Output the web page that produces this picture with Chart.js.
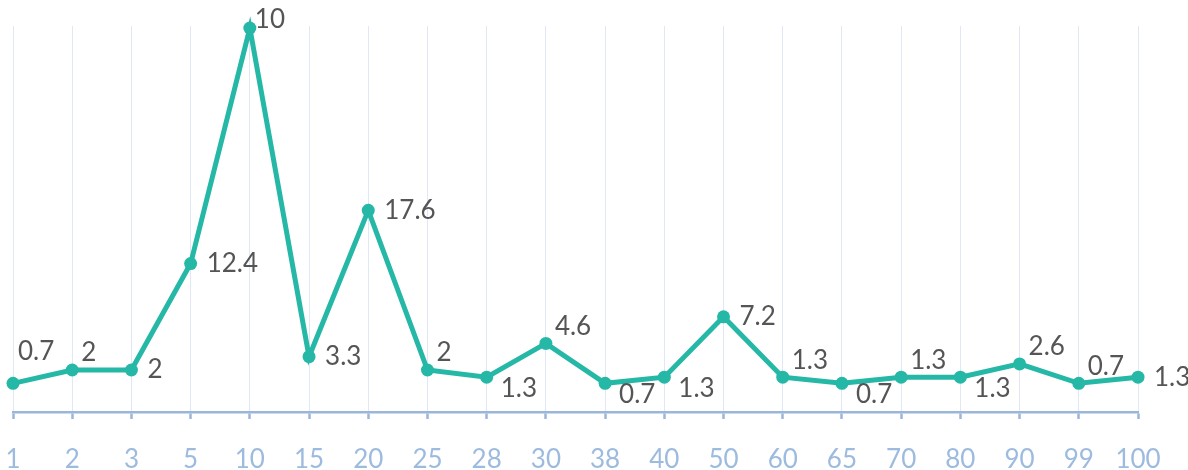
<!DOCTYPE html>
<html>
<head>
<meta charset="utf-8">
<script src="https://cdn.jsdelivr.net/npm/chart.js@4/dist/chart.umd.min.js"></script>
<style>
  html, body { margin: 0; padding: 0; background: #fff; }
  #wrap { width: 1188px; height: 470px; }
</style>
</head>
<body>
<div id="wrap"><canvas id="linechart"></canvas></div>
<script>
// categories on the x axis
const categories = ['1', '2', '3', '5', '10', '15', '20', '25', '28', '30', '38', '40', '50', '60', '65', '70', '80', '90', '99', '100'];
// series values (read from the point heights)
const values = [0.7, 2, 2, 12.4, 35.4, 3.3, 17.6, 2, 1.3, 4.6, 0.7, 1.3, 7.2, 1.3, 0.7, 1.3, 1.3, 2.6, 0.7, 1.3];
// text printed next to each point
const pointText = ['0.7', '2', '2', '12.4', '10', '3.3', '17.6', '2', '1.3', '4.6', '0.7', '1.3', '7.2', '1.3', '0.7', '1.3', '1.3', '2.6', '0.7', '1.3'];
// where each label sits: t = high above, a = above right, r = right, n = near, b = below right
const labelSide = ['t', 'a', 'r', 'r', 'n', 'r', 'r', 'a', 'b', 'a', 'b', 'b', 'r', 'a', 'b', 'a', 'b', 'a', 'a', 'r'];

const teal = '#26b8a7';
const axisBlue = '#9ab6da';

const sideShift = {
    t: [5, -32],
    a: [9, -17],
    r: [16, 0],
    n: [5, -8],
    b: [14, 11]
};

//draws the value labels next to the points
const pointLabels = {
    id: 'pointLabels',
    afterDatasetsDraw(chart) {
        let ctx = chart.ctx;
        let meta = chart.getDatasetMeta(0);
        ctx.save();
        ctx.font = '26px Lato';
        ctx.fillStyle = '#555555';
        ctx.textAlign = 'left';
        ctx.textBaseline = 'middle';
        meta.data.forEach(function(pt, i) {
            let s = sideShift[labelSide[i]];
            ctx.fillText(pointText[i], pt.x + s[0], pt.y + s[1]);
        });
        ctx.restore();
    }
};

let chart = new Chart(document.getElementById('linechart'), {
    type: 'line',
    data: {
        labels: categories,
        datasets: [{
            data: values,
            borderColor: teal,
            backgroundColor: teal,
            borderWidth: 5,
            pointRadius: 6.5,
            pointHoverRadius: 6.5,
            pointBackgroundColor: teal,
            pointBorderWidth: 0,
            tension: 0,
            fill: false,
            clip: false
        }]
    },
    options: {
        responsive: true,
        maintainAspectRatio: false,
        animation: false,
        layout: {
            padding: { left: 13, right: 50, top: 26, bottom: 0 }
        },
        plugins: {
            legend: { display: false },
            tooltip: { enabled: false }
        },
        scales: {
            x: {
                offset: false,
                grid: {
                    color: '#dfe8f4',
                    lineWidth: 1,
                    tickLength: 7,
                    tickColor: axisBlue,
                    tickWidth: 2.5
                },
                border: { color: axisBlue, width: 2.5 },
                ticks: {
                    color: '#9dbbdf',
                    font: { family: 'Lato', size: 26 },
                    padding: 25,
                    maxRotation: 0,
                    autoSkip: false
                },
                afterFit: function(scale) {
                    scale.height = 58;
                    scale.paddingLeft = 0;
                    scale.paddingRight = 0;
                }
            },
            y: {
                display: false,
                min: -2.1,
                max: 35.6
            }
        }
    },
    plugins: [pointLabels]
});
</script>
</body>
</html>
